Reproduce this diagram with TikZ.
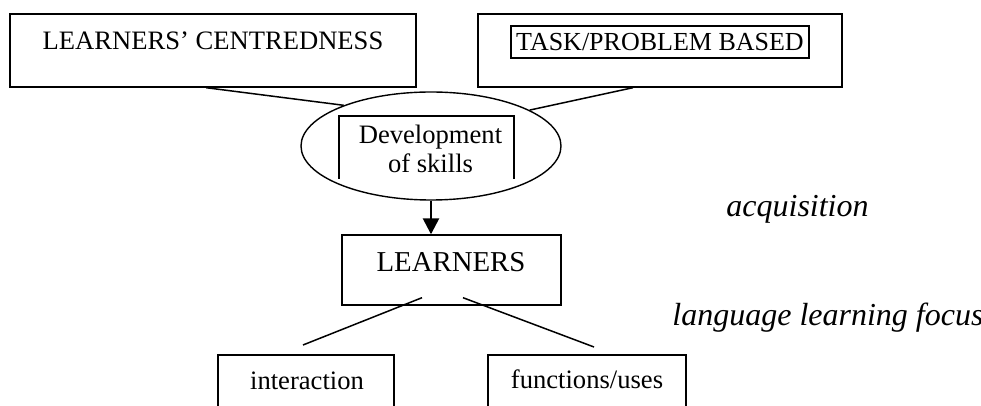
\documentclass[tikz,border=0pt]{standalone}
\usepackage{fontspec}
\setmainfont{Liberation Serif}
\usetikzlibrary{shapes.geometric,arrows.meta,calc}
\tikzset{
  frame/.style={draw, line width=0.7pt, inner sep=0pt},
  thickframe/.style={draw, line width=1.1pt},
  link/.style={line width=0.75pt},
  txt/.style={inner sep=0pt, anchor=base, font=\fontsize{13.3}{15}\selectfont},
  bigtxt/.style={inner sep=0pt, anchor=base, font=\fontsize{14.4}{16}\selectfont},
  note/.style={inner sep=0pt, anchor=base west, font=\fontsize{16}{18}\selectfont\itshape},
}
\begin{document}
\begin{tikzpicture}[x=0.5pt, y=-0.5pt]
\useasboundingbox (0,0) rectangle (981,406);
% top boxes
\node[frame, minimum width=203pt, minimum height=36.5pt] (b1) at (213,50.5) {};
\node[txt] (t1) at (213,50) {LEARNERS’ CENTREDNESS};
\node[frame, minimum width=182pt, minimum height=36.5pt] (b2) at (660,50.5) {};
\node[thickframe, inner sep=0pt, minimum width=149pt, minimum height=16pt,
      font=\fontsize{13}{15}\selectfont] (t2) at (660,42) {TASK/PROBLEM BASED};
% ellipse
\node[ellipse, draw, line width=0.7pt, inner sep=0pt, minimum width=130pt, minimum height=54pt] (ell) at (431,146) {};
\draw[line width=1.1pt] (339,179) -- (339,116) -- (514,116) -- (514,179);
\node[txt] (d1) at (430.5,144) {Development};
\node[txt] (d2) at (430.5,173) {of skills};
% links top
\draw[link] ($(b1.south west)!0.483!(b1.south east)$) -- (ell.155.6);
\draw[link] ($(b2.south west)!0.426!(b2.south east)$) -- (ell.20);
% learners
\node[frame, minimum width=109.5pt, minimum height=35pt] (L) at (451.5,270) {};
\node[bigtxt] (Lt) at (451,272) {LEARNERS};
\draw[line width=1.3pt, -{Triangle[width=8pt,length=8pt]}] (ell.south) -- (ell.south |- L.north);
% bottom boxes
\node[frame, minimum width=88pt, minimum height=32.5pt] (bi) at (306,387.5) {};
\node[txt] (ti) at (307,390) {interaction};
\node[frame, minimum width=99pt, minimum height=32.5pt] (bf) at (587,387.5) {};
\node[txt] (tf) at (587,389) {functions/uses};
\coordinate (ci) at (303,345);
\coordinate (cf) at (594,347);
\draw[link] ($(L.south)+(-29.5,-8)$) -- (ci);
\draw[link] ($(L.south)+(11.5,-8)$) -- (cf);
% side notes
\node[note] (n1) at (726,216.7) {acquisition};
\node[note] (n2) at (672,326) {language learning focus};
\end{tikzpicture}
\end{document}
